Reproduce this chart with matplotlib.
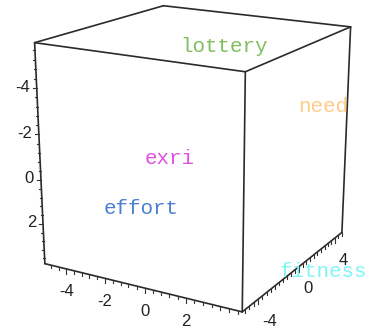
import numpy as np
import matplotlib.pyplot as plt

# words placed in 3-D (textplot3d style)
words = ["lottery", "need", "exri", "effort", "fitness"]
word_x = [0.25, 2.15, -3.1, -4.1, 4.1]
word_y = [-2.8, 4.85, -0.3, -2.3, -0.95]
word_z = [-5.9, -1.9, 0.1, 2.05, 3.85]
word_colors = ["#7fbf5f", "#ffcc88", "#e050e0", "#4a7fd0", "#7ff5f5"]

# axis ranges of the box (vertical axis runs downward: bottom value first)
x_lim = (-5.15, 4.6)
y_lim = (-5.4, 4.85)
z_lim = (3.85, -5.9)

x_ticks = [-4, -2, 0, 2]
y_ticks = [-4, 0, 4]
z_ticks = [-4, -2, 0, 2]
MINOR = 0.4

W, H = 369, 330

# camera calibration: screen position (px, y down) of the visible box corners,
# corners given in unit-box coords (x, y, z-up)
CAMERA_REF = {
    (0, 0, 0): (45, 264),
    (1, 0, 0): (242, 312),
    (1, 1, 0): (342, 232),
    (0, 0, 1): (35, 42),
    (1, 0, 1): (245, 72),
    (1, 1, 1): (351, 27),
    (0, 1, 1): (163, 6),
}


def fit_camera(ref):
    rows = []
    for (a, b, c), (u, v) in ref.items():
        X = [a, b, c, 1.0]
        u, v = u / 100.0, v / 100.0
        rows.append(X + [0.0] * 4 + [-u * t for t in X])
        rows.append([0.0] * 4 + X + [-v * t for t in X])
    _, _, vt = np.linalg.svd(np.array(rows, float))
    return vt[-1].reshape(3, 4)


P = fit_camera(CAMERA_REF)


def unit(val, lim):
    return (val - lim[0]) / (lim[1] - lim[0])


def project(x, y, z):
    h = P @ np.array([unit(x, x_lim), unit(y, y_lim), unit(z, z_lim), 1.0])
    return 100.0 * h[0] / h[2], 100.0 * h[1] / h[2]


fig = plt.figure(figsize=(W / 100, H / 100), dpi=100)
ax = fig.add_axes([0, 0, 1, 1])
ax.set_xlim(0, W)
ax.set_ylim(H, 0)
ax.axis("off")

edge = dict(color="#2a2a2a", lw=1.2, solid_capstyle="round")
x0, x1 = x_lim
y0, y1 = y_lim
zb, zt = z_lim
box_edges = [
    ((x0, y0, zt), (x1, y0, zt)), ((x1, y0, zt), (x1, y1, zt)),
    ((x1, y1, zt), (x0, y1, zt)), ((x0, y1, zt), (x0, y0, zt)),
    ((x0, y0, zb), (x0, y0, zt)), ((x1, y0, zb), (x1, y0, zt)),
    ((x1, y1, zb), (x1, y1, zt)),
    ((x0, y0, zb), (x1, y0, zb)), ((x1, y0, zb), (x1, y1, zb)),
]
for p, q in box_edges:
    (u0, v0), (u1, v1) = project(*p), project(*q)
    ax.plot([u0, u1], [v0, v1], **edge)


def minor_values(lim):
    lo, hi = min(lim), max(lim)
    return np.arange(np.ceil(lo / MINOR) * MINOR, hi, MINOR)


tick_kw = dict(color="#333333", lw=0.8)
lab_kw = dict(fontsize=12, family="Liberation Sans", color="#222222")

# x axis: bottom-left edge
for t in minor_values(x_lim):
    u, v = project(t, y0, zb)
    major = any(abs(t - m) < 1e-6 for m in x_ticks)
    ax.plot([u, u], [v, v + (5 if major else 3)], **tick_kw)
for t in x_ticks:
    u, v = project(t, y0, zb)
    ax.text(u, v + 23, str(t), ha="center", va="center", **lab_kw)

# y axis: bottom-right edge
for t in minor_values(y_lim):
    u, v = project(x1, t, zb)
    major = any(abs(t - m) < 1e-6 for m in y_ticks)
    ax.plot([u, u], [v, v + (5 if major else 3)], **tick_kw)
for t in y_ticks:
    u, v = project(x1, t, zb)
    ax.text(u + 4, v + 22, str(t), ha="left", va="center", **lab_kw)

# z axis: left vertical edge
for t in minor_values(z_lim):
    u, v = project(x0, y0, t)
    major = any(abs(t - m) < 1e-6 for m in z_ticks)
    ax.plot([u, u - (4 if major else 2)], [v, v], **tick_kw)
for t in z_ticks:
    u, v = project(x0, y0, t)
    ax.text(u - 7, v - 1, str(t), ha="right", va="center", **lab_kw)

for w, x, y, z, c in zip(words, word_x, word_y, word_z, word_colors):
    u, v = project(x, y, z)
    ax.text(u, v, w, color=c, fontsize=15, family="Liberation Mono",
            ha="left", va="center")

fig.savefig("out.png", dpi=100)
